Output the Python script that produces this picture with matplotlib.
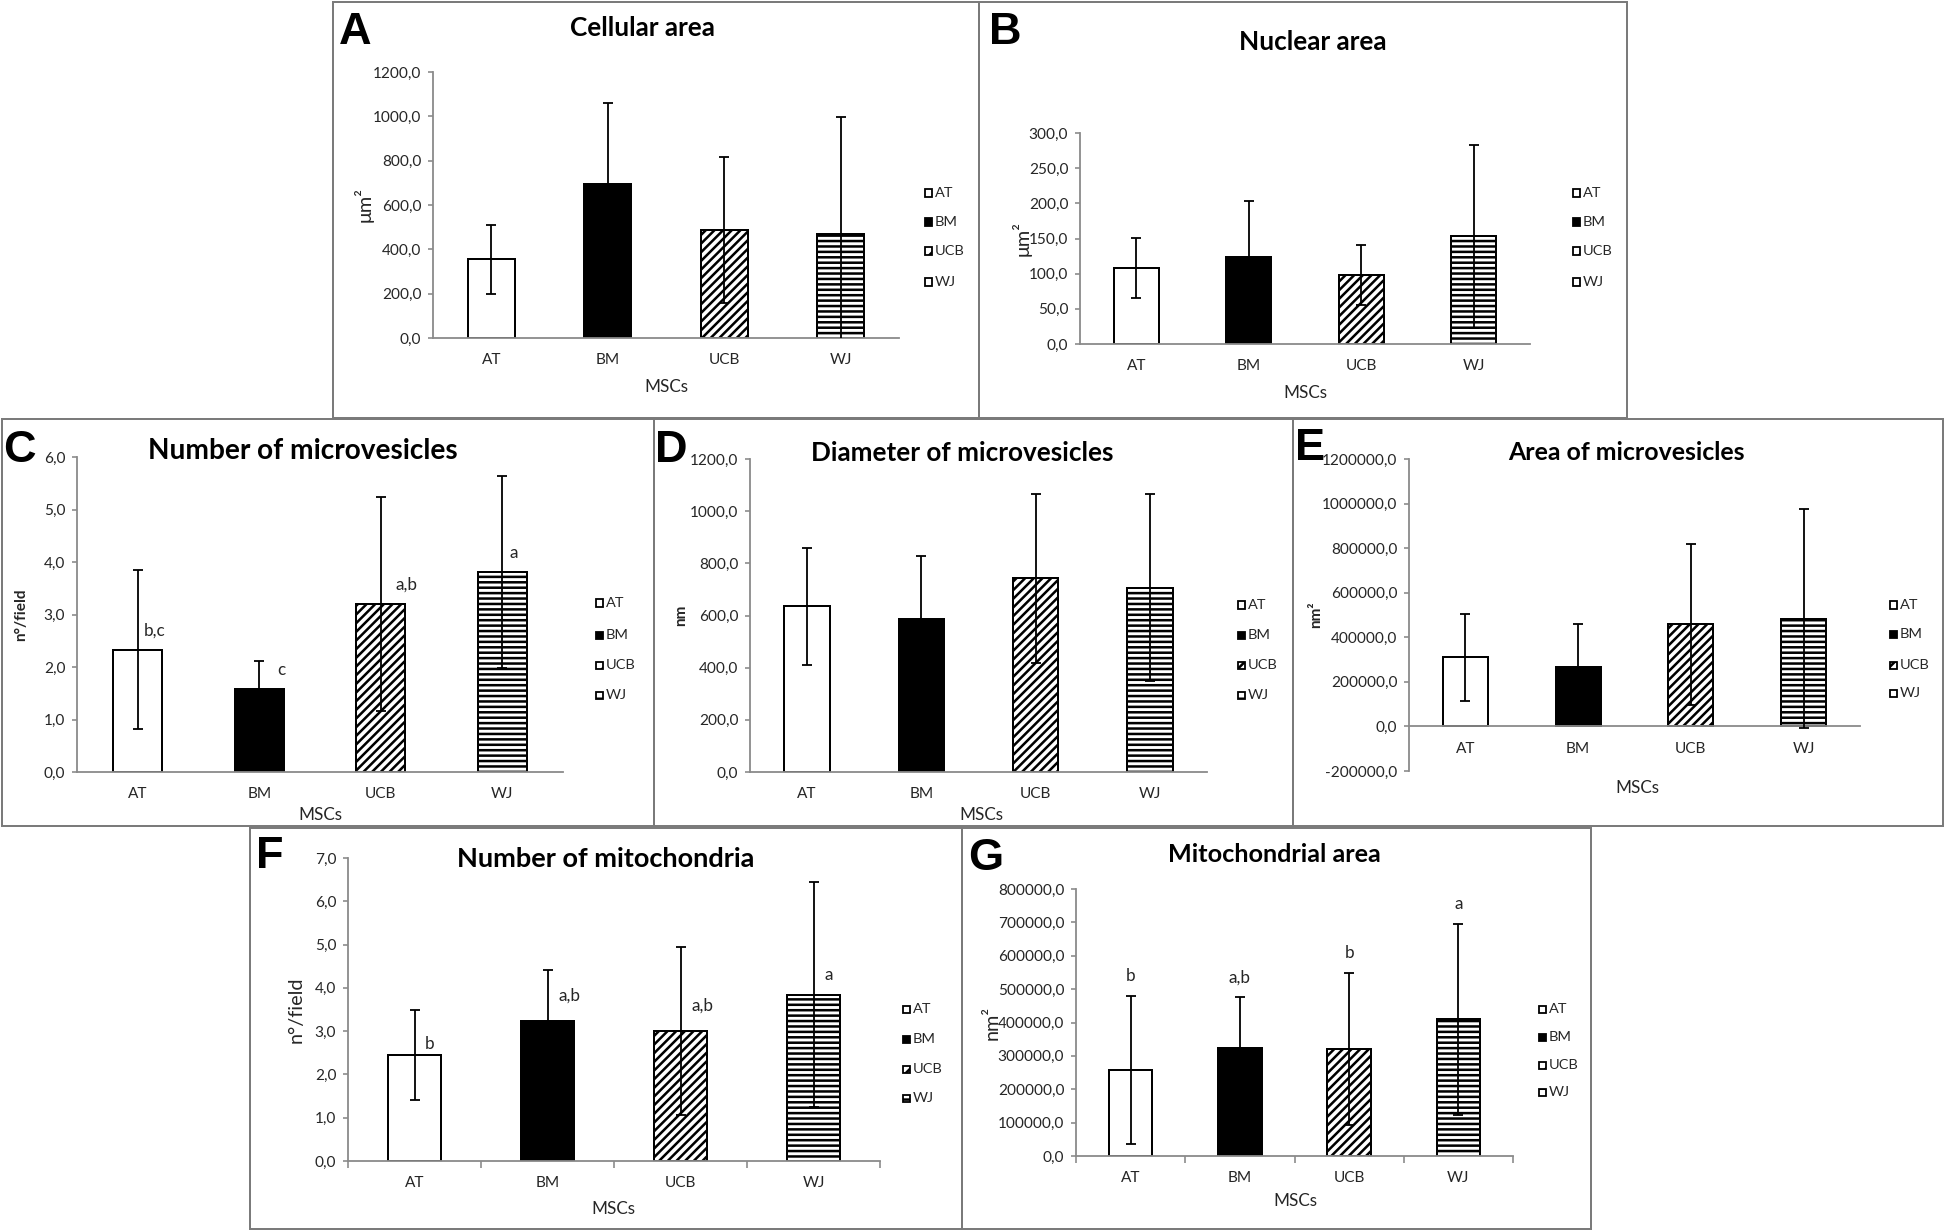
import matplotlib
matplotlib.use('Agg')
import matplotlib.pyplot as plt
from matplotlib.patches import Rectangle
from matplotlib.ticker import FuncFormatter, MultipleLocator
import numpy as np

# ---------------- data ----------------
categories = ['AT', 'BM', 'UCB', 'WJ']
xlabel = 'MSCs'

cell_area_mean = [355, 695, 487, 467]
cell_area_sd = [157, 367, 331, 528]

nuclear_area_mean = [108, 124, 98, 153]
nuclear_area_sd = [43, 79, 43, 130]

mv_number_mean = [2.33, 1.58, 3.20, 3.81]
mv_number_sd = [1.51, 0.54, 2.04, 1.82]
mv_number_letters = ['b,c', 'c', 'a,b', 'a']

mv_diameter_mean = [635, 587, 742, 706]
mv_diameter_sd = [225, 243, 323, 359]

mv_area_mean = [310000, 268000, 458000, 484000]
mv_area_sd = [195000, 192000, 362000, 493000]

mito_number_mean = [2.45, 3.23, 3.00, 3.84]
mito_number_sd = [1.03, 1.19, 1.94, 2.60]
mito_number_letters = ['b', 'a,b', 'a,b', 'a']

mito_area_mean = [258000, 323000, 320000, 409000]
mito_area_sd = [222000, 152000, 228000, 285000]
mito_area_letters = ['b', 'a,b', 'b', 'a']

# ---------------- style ----------------
W, H, DPI = 1946, 1232, 130
plt.rcParams['font.family'] = ['Lato', 'DejaVu Sans']
plt.rcParams['hatch.linewidth'] = 1.4
fills = ['white', 'black', 'white', 'white']
hatches = [None, None, '/////', '----']
legend_hatches = [None, None, '///', '--']
TXT = '#262626'
SPINE = '#8a8a8a'

fig = plt.figure(figsize=(W / DPI, H / DPI), dpi=DPI)
fig.patch.set_facecolor('white')


def fx(x):
    return x / W


def fy(y):
    return 1 - y / H


def comma_fmt(v, pos=None):
    return ('%.1f' % v).replace('.', ',')


def panel(letter, letter_xy, title, title_xy, title_size, box, axbox, ylim, ystep,
          means, sds, ylabel, ylabel_x, ylabel_kw, xlabel_xy, legend_x, legend_rows,
          zero_axis=False, cat_ticks=False):
    # panel frame
    x0, y0, x1, y1 = box
    fig.add_artist(Rectangle((fx(x0), fy(y1)), (x1 - x0) / W, (y1 - y0) / H,
                             transform=fig.transFigure, fill=False,
                             edgecolor='#7a7a7a', lw=1.1, zorder=0))
    ax0, ay0, ax1, ay1 = axbox  # left, top, right, bottom in px
    ax = fig.add_axes([fx(ax0), fy(ay1), (ax1 - ax0) / W, (ay1 - ay0) / H])
    ax.set_facecolor('none')
    x = np.arange(len(categories))
    for i in range(len(categories)):
        ax.bar(x[i], means[i], width=0.4, color=fills[i], edgecolor='black',
               hatch=hatches[i], linewidth=1.1, zorder=2)
    ax.errorbar(x, means, yerr=sds, fmt='none', ecolor='black', elinewidth=1.0,
                capsize=2.6, capthick=1.0, zorder=3)
    ax.set_xlim(-0.5, len(categories) - 0.5)
    ax.set_ylim(*ylim)
    ax.yaxis.set_major_locator(MultipleLocator(ystep))
    ax.yaxis.set_major_formatter(FuncFormatter(comma_fmt))
    for s in ['top', 'right']:
        ax.spines[s].set_visible(False)
    for s in ['left', 'bottom']:
        ax.spines[s].set_color(SPINE)
        ax.spines[s].set_linewidth(1.0)
    if zero_axis:
        ax.spines['bottom'].set_position(('data', 0))
    ax.set_xticks(x)
    ax.set_xticklabels(categories)
    ax.tick_params(axis='y', length=3, width=0.9, color=SPINE, pad=3.5,
                   labelsize=8.5, labelcolor=TXT)
    ax.tick_params(axis='x', length=0, pad=8.5, labelsize=8.5, labelcolor=TXT)
    if cat_ticks:
        ax.set_xticks(np.arange(-0.5, len(categories), 1.0), minor=True)
        ax.tick_params(axis='x', which='minor', length=4, width=0.9, color=SPINE)
    # axis labels
    ax.set_ylabel(ylabel, color=TXT, **ylabel_kw)
    ax.yaxis.set_label_coords((ylabel_x - ax0) / (ax1 - ax0), 0.5)
    ax.set_xlabel(xlabel, fontsize=9.5, color=TXT)
    ax.xaxis.set_label_coords((xlabel_xy[0] - ax0) / (ax1 - ax0),
                              (ay1 - xlabel_xy[1]) / (ay1 - ay0))
    ax.xaxis.label.set_verticalalignment('center')
    ax.yaxis.label.set_verticalalignment('center')
    # title and panel letter
    fig.text(fx(title_xy[0]), fy(title_xy[1]), title, ha='center', va='center',
             fontsize=title_size, fontweight='bold', color='black')
    fig.text(fx(letter_xy[0]), fy(letter_xy[1]), letter, ha='center', va='center',
             fontsize=25, fontweight='bold', family='Liberation Sans', color='black')
    # legend
    sq = 7
    for i, cat in enumerate(categories):
        ly = legend_rows[i]
        fig.add_artist(Rectangle((fx(legend_x), fy(ly + sq / 2)), sq / W, sq / H,
                                 transform=fig.transFigure, facecolor=fills[i],
                                 edgecolor='black', lw=1.0, hatch=legend_hatches[i]))
        fig.text(fx(legend_x + sq + 3), fy(ly), cat, ha='left', va='center',
                 fontsize=8, color=TXT)
    return ax


# A
panel('A', (355, 32), 'Cellular area', (642, 28), 14.5, (333, 2, 979, 418),
      (433, 72, 899, 338), (0, 1200), 200, cell_area_mean, cell_area_sd,
      'μm²', 364, dict(fontsize=11), (666, 387), 925, [193, 222, 251, 282])

# B
panel('B', (1005, 32), 'Nuclear area', (1313, 42), 14.5, (979, 2, 1627, 418),
      (1080, 133, 1530, 344), (0, 300), 50, nuclear_area_mean, nuclear_area_sd,
      'μm²', 1022, dict(fontsize=11), (1305, 393), 1573, [193, 222, 251, 282])

# C
axC = panel('C', (19, 450), 'Number of microvesicles', (303, 451), 15.5, (2, 419, 654, 826),
            (77, 457, 563, 772), (0, 6), 1, mv_number_mean, mv_number_sd,
            'n°/field', 21, dict(fontsize=8.5, fontweight='bold'), (320, 815), 596,
            [603, 635, 665, 695])
c_dx = [0.05, 0.15, 0.12, 0.06]
for i, lab in enumerate(mv_number_letters):
    axC.text(i + c_dx[i], mv_number_mean[i] + 0.37, lab, ha='left', va='center',
             fontsize=9.5, color=TXT)

# D
panel('D', (671, 450), 'Diameter of microvesicles', (962, 453), 14.5, (654, 419, 1293, 826),
      (750, 459, 1207, 772), (0, 1200), 200, mv_diameter_mean, mv_diameter_sd,
      'nm', 681, dict(fontsize=8.5, fontweight='bold'), (981, 815), 1238,
      [605, 635, 665, 695])

# E
panel('E', (1310, 448), 'Area of microvesicles', (1626, 453), 13.8, (1293, 419, 1943, 826),
      (1409, 459, 1860, 771), (-200000, 1200000), 200000, mv_area_mean, mv_area_sd,
      'nm²', 1316, dict(fontsize=8.5, fontweight='bold'), (1637, 788), 1890,
      [605, 634, 665, 693], zero_axis=True)

# F
axF = panel('F', (270, 856), 'Number of mitochondria', (606, 859), 15, (250, 828, 962, 1229),
            (348, 858, 880, 1161), (0, 7), 1, mito_number_mean, mito_number_sd,
            'n°/field', 296, dict(fontsize=11), (613, 1209), 903,
            [1009, 1039, 1069, 1098], cat_ticks=True)
f_off = [0.26, 0.59, 0.60, 0.46]
for i, lab in enumerate(mito_number_letters):
    axF.text(i + 0.08, mito_number_mean[i] + f_off[i], lab, ha='left', va='center',
             fontsize=9.5, color=TXT)

# G
axG = panel('G', (986, 859), 'Mitochondrial area', (1274, 854), 14, (962, 828, 1591, 1229),
            (1076, 889, 1513, 1156), (0, 800000), 100000, mito_area_mean, mito_area_sd,
            'nm²', 992, dict(fontsize=11), (1295, 1201), 1539,
            [1009, 1037, 1065, 1092], cat_ticks=True)
for i, lab in enumerate(mito_area_letters):
    axG.text(i, mito_area_mean[i] + mito_area_sd[i] + 60000, lab, ha='center', va='center',
             fontsize=9.5, color=TXT)

fig.savefig('out.png', dpi=DPI, facecolor='white')
